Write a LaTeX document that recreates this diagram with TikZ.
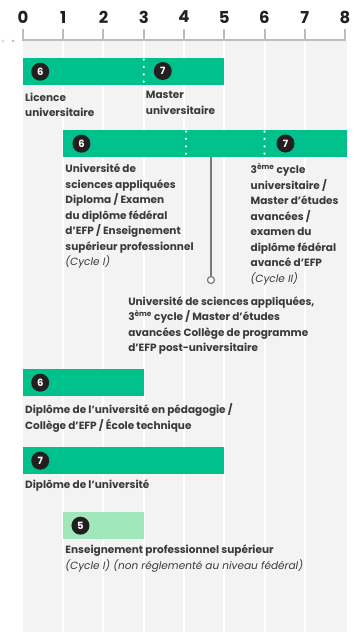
\documentclass[tikz,border=0pt]{standalone}
\usepackage{fontspec}
\setmainfont{Poppins}
\usetikzlibrary{positioning}
\definecolor{bargreen}{HTML}{00C08B}
\definecolor{softgreen}{HTML}{A0E7BB}
\definecolor{column}{HTML}{F3F3F3}
\definecolor{ink}{HTML}{3A3A3A}
\definecolor{badgeink}{HTML}{231F20}
\definecolor{axisgray}{HTML}{BDBDBD}
\definecolor{muted}{HTML}{7A7A7A}
\def\yr{40.25pt}
\tikzset{
  bar/.style={fill=bargreen,draw=none,inner sep=0pt,minimum height=27pt,anchor=north west},
  softbar/.style={bar,fill=softgreen},
  badge/.style={circle,fill=badgeink,text=white,inner sep=0pt,minimum size=18pt,font=\bfseries\fontsize{10}{10}\selectfont},
  desc/.style={anchor=north west,inner sep=0pt,align=left,text=ink,font=\bfseries\fontsize{10.5}{15.5}\selectfont},
  dots/.style={white,line width=2.5pt,line cap=round,dash pattern=on 0pt off 7.4pt},
  ring/.style={circle,draw=muted,fill=white,line width=1.2pt,inner sep=0pt,minimum size=7pt}
}
\newcommand{\cyc}[1]{{\normalfont\itshape #1}}
\begin{document}
\begin{tikzpicture}[x=\yr,y=-1pt]
  \useasboundingbox (-0.5714,0) rectangle (8.4224,632);
  % year columns
  \fill[column] (0,41) rectangle ([xshift=2pt]8,632);
  \foreach \i in {1,...,7}{\fill[white] ([xshift=-1pt]\i,41) rectangle ([xshift=1pt]\i,632);}
  % axis
  \fill[axisgray!60] (-0.497,41) circle (1.5pt);
  \fill[axisgray] (-0.248,41) circle (1.5pt);
  \draw[axisgray,line width=2pt] (0,40)--(8,40);
  \foreach \t in {0,...,8}{
    \draw[axisgray,line width=2pt] (\t,41)--(\t,29);
    \node[text=badgeink,font=\bfseries\fontsize{16.5}{17}\selectfont] (t\t) at (\t,17) {\t};}
  % bachelor / master
  \node[bar,minimum width=5*\yr] (uni) at (0,58) {};
  \draw[dots] (3,59.5)--(3,84);
  \node[badge,right=8pt of uni.west] (uni6) {6};
  \node[badge,xshift=19pt] (uni7) at (3,71) {7};
  \node[desc] (licence) at ([shift={(2pt,-7pt)}]uni.south west) {Licence\\universitaire};
  \node[desc] (master) at ([xshift=2pt]3,91) {Master\\universitaire};
  % universities of applied sciences
  \node[bar,minimum width=7*\yr+2pt] (hes) at (1,130) {};
  \draw[dots] (4.05,131.5)--(4.05,157);
  \draw[dots] (6,131.5)--(6,157);
  \node[badge,right=9pt of hes.west] (hes6) {6};
  \node[badge,xshift=21pt] (hes7) at (6,143.5) {7};
  \node[desc] (diploma) at ([shift={(2pt,-6.5pt)}]hes.south west)
    {Université de\\sciences appliquées\\Diploma / Examen\\du diplôme fédéral\\d’EFP / Enseignement\\supérieur professionnel\\\cyc{(Cycle I)}};
  \node[desc] (cycle3) at ([xshift=-14pt]6,163.5)
    {3\textsuperscript{ème} cycle\\universitaire /\\Master d’études\\avancées /\\examen du\\diplôme fédéral\\avancé d’EFP\\\cyc{(Cycle II)}};
  \node[ring] (hub) at (4.67,280) {};
  \draw[muted,line width=1.3pt] (hes.south -| hub) -- (hub);
  \node[desc] (postgrad) at (2.61,296.5)
    {Université de sciences appliquées,\\3\textsuperscript{ème} cycle / Master d’études\\avancées Collège de programme\\d’EFP post-universitaire};
  % teacher education
  \node[bar,minimum width=3*\yr] (ped) at (0,369) {};
  \node[badge,right=8pt of ped.west] (ped6) {6};
  \node[desc] (pedtext) at ([shift={(2pt,-7pt)}]ped.south west)
    {Diplôme de l’université en pédagogie /\\Collège d’EFP / École technique};
  % university
  \node[bar,minimum width=5*\yr] (diplome) at (0,447) {};
  \node[badge,right=8pt of diplome.west] (diplome7) {7};
  \node[desc] (diplometext) at ([shift={(2pt,-5.5pt)}]diplome.south west) {Diplôme de l’université};
  % professional education
  \node[softbar,minimum width=2*\yr] (pro) at (1,512) {};
  \node[badge,right=8pt of pro.west] (pro5) {5};
  \node[desc,font=\bfseries\fontsize{10.5}{16}\selectfont] (protext) at ([shift={(2pt,-5.5pt)}]pro.south west)
    {Enseignement professionnel supérieur\\\cyc{(Cycle I) (non réglementé au niveau fédéral)}};
\end{tikzpicture}
\end{document}
